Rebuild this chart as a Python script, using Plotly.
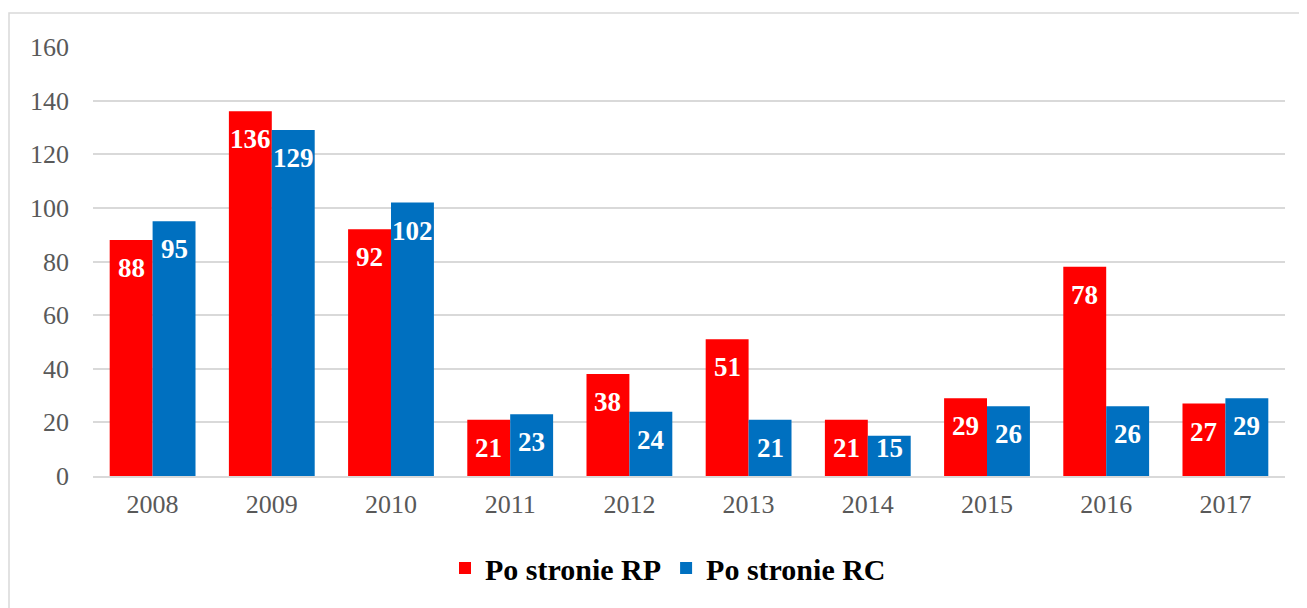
import plotly.graph_objects as go

years = ["2008", "2009", "2010", "2011", "2012", "2013", "2014", "2015", "2016", "2017"]
rp_values = [88, 136, 92, 21, 38, 51, 21, 29, 78, 27]
rc_values = [95, 129, 102, 23, 24, 21, 15, 26, 26, 29]
series_names = ["Po stronie RP", "Po stronie RC"]
y_ticks = [0, 20, 40, 60, 80, 100, 120, 140, 160]

SERIF = "Liberation Serif"
COLORS = ["#FF0000", "#0070C0"]

# the page body has an 8px default margin; work in screen pixels and convert
OFF = 8
W, H = 1307 - OFF, 608 - OFF
PLOT_L, PLOT_R, PLOT_T, PLOT_B = 93, 1285, 47, 476  # screen pixels
L, T = PLOT_L - OFF, PLOT_T - OFF
R, B = W - (PLOT_R - OFF), H - (PLOT_B - OFF)
pw, ph = W - L - R, H - T - B
YMAX = 160
BARGAP = 0.28
LABEL_SIZE = 27


def px_x(sx):
    return (sx - PLOT_L) / (PLOT_R - PLOT_L)


def px_y(sy):
    return (PLOT_B - sy) / (PLOT_B - PLOT_T)


fig = go.Figure()
for name, vals, color in zip(series_names, [rp_values, rc_values], COLORS):
    fig.add_trace(go.Bar(
        x=years, y=vals, name=name,
        marker=dict(color=color, line=dict(width=0)),
    ))

# value labels, placed inside the end of each bar (x given as category index)
bar_frac = (1 - BARGAP) / 2
annotations = []
for k, vals in enumerate([rp_values, rc_values]):
    dx = (-0.5 if k == 0 else 0.5) * bar_frac
    for i, v in enumerate(vals):
        hpx = v * ph / YMAX
        offset = min(11, max(-6, hpx - 45))
        annotations.append(dict(
            x=i + dx, y=v, xref="x", yref="y", text=str(v), showarrow=False,
            xanchor="center", yanchor="top", yshift=-offset,
            font=dict(family=SERIF, size=LABEL_SIZE, color="white", weight="bold"),
        ))

fig.update_layout(
    width=W, height=H,
    margin=dict(l=L, r=R, t=T, b=B, autoexpand=False),
    barmode="group", bargap=BARGAP, bargroupgap=0,
    plot_bgcolor="white", paper_bgcolor="white",
    font=dict(family=SERIF),
    xaxis=dict(
        type="category", range=[-0.5, len(years) - 0.5],
        showgrid=False, showline=True, linecolor="#D9D9D9", linewidth=1.5,
        ticks="", tickfont=dict(family=SERIF, size=26, color="#595959"),
        ticklabelstandoff=4, automargin=False,
    ),
    yaxis=dict(
        range=[0, YMAX], tickvals=y_ticks, showgrid=True, gridcolor="#D9D9D9",
        gridwidth=1.5, zeroline=False, showline=False, ticks="",
        tickfont=dict(family=SERIF, size=26, color="#595959"),
        ticklabelstandoff=23, automargin=False,
    ),
    legend=dict(
        orientation="h", x=px_x(668), xanchor="center",
        y=px_y(568), yanchor="middle",
        font=dict(family=SERIF, size=30, color="black", weight=700),
        itemwidth=30, traceorder="normal",
    ),
    showlegend=True,
    annotations=annotations,
    shapes=[dict(
        type="rect", xref="paper", yref="paper",
        x0=px_x(9), x1=px_x(1300), y0=px_y(612), y1=px_y(13),
        line=dict(color="#D9D9D9", width=1.5), fillcolor="rgba(0,0,0,0)",
        layer="below",
    )],
)

fig.write_html("out.html")
